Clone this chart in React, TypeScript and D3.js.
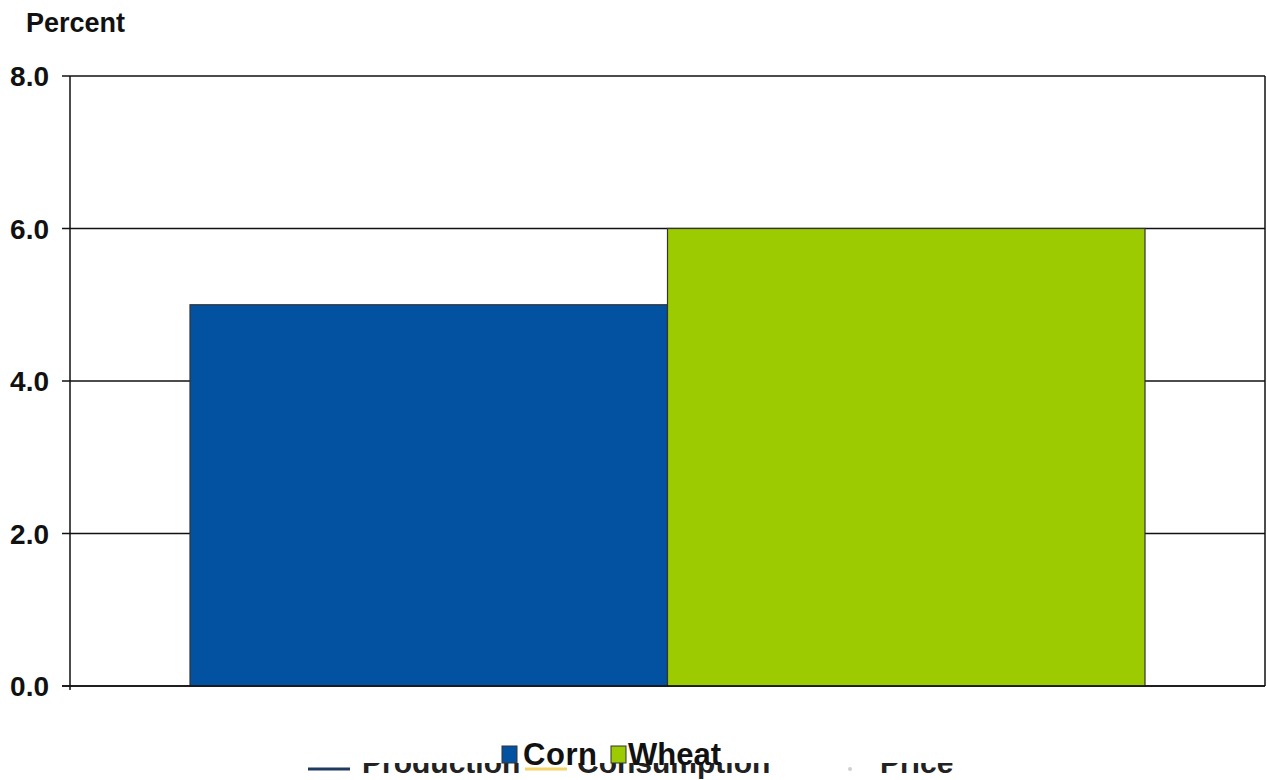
import React from "react";
import * as d3 from "d3";

const series = ["Corn", "Wheat"];
const values = [5.0, 6.0];
const colors = ["#0352A2", "#9BCB00"];
const yTicks = [0, 2, 4, 6, 8];
const hiddenLegend = ["Production", "Consumption", "Price"];
const hiddenLegendColors = ["#1F3A5F", "#F2D46A", "#D0D0D0"];

const W = 1267;
const H = 780;
const plot = { left: 70, right: 1265, top: 76, bottom: 686 };
const FONT = "'Liberation Sans', Arial, sans-serif";

export default function App() {
  const y = d3.scaleLinear().domain([0, 8]).range([plot.bottom, plot.top]);
  const x = d3
    .scaleBand<string>()
    .domain(series)
    .range([plot.left, plot.right])
    .paddingInner(0)
    .paddingOuter(0.2513);

  const hiddenPos = [
    { lx: 308, tx: 362 },
    { lx: 525, tx: 577 },
    { lx: 838, tx: 880 },
  ];

  return (
    <svg
      width={W}
      height={H}
      style={{ position: "absolute", left: 0, top: 0, background: "#fff" }}
      fontFamily={FONT}
    >
      <rect x={0} y={0} width={W} height={H} fill="#fff" />
      <text x={26} y={32} fontSize={27} fontWeight="bold" fill="#111">
        Percent
      </text>
      {/* gridlines */}
      {yTicks.map((t) => (
        <g key={t}>
          <line
            x1={plot.left - 8}
            x2={plot.right}
            y1={y(t)}
            y2={y(t)}
            stroke="#111"
            strokeWidth={1.3}
          />
          <text
            x={49}
            y={y(t)}
            dy="0.36em"
            textAnchor="end"
            fontSize={28}
            fontWeight="bold"
            fill="#111"
          >
            {t.toFixed(1)}
          </text>
        </g>
      ))}
      {/* bars */}
      {series.map((s, i) => (
        <rect
          key={s}
          x={x(s)!}
          y={y(values[i])}
          width={x.bandwidth()}
          height={y(0) - y(values[i])}
          fill={colors[i]}
          stroke="#333"
          strokeWidth={1.2}
        />
      ))}
      {/* axes / border */}
      <line x1={plot.left} x2={plot.left} y1={plot.top} y2={plot.bottom + 4} stroke="#111" strokeWidth={1.5} />
      <line x1={plot.right} x2={plot.right} y1={plot.top} y2={plot.bottom} stroke="#111" strokeWidth={1.5} />
      <line x1={plot.left - 8} x2={plot.right} y1={plot.bottom} y2={plot.bottom} stroke="#111" strokeWidth={1.5} />

      {/* partially hidden legend behind */}
      {hiddenLegend.map((name, i) => (
        <g key={name}>
          {i < 2 ? (
            <line
              x1={hiddenPos[i].lx}
              x2={hiddenPos[i].lx + 42}
              y1={769}
              y2={769}
              stroke={hiddenLegendColors[i]}
              strokeWidth={3}
            />
          ) : (
            <circle cx={hiddenPos[i].lx + 12} cy={769} r={2} fill={hiddenLegendColors[i]} />
          )}
          <text x={hiddenPos[i].tx} y={773} fontSize={30} fontWeight="bold" fill="#222">
            {name}
          </text>
        </g>
      ))}
      <rect x={280} y={735} width={700} height={28} fill="#fff" />

      {/* front legend */}
      {series.map((s, i) => {
        const sx = i === 0 ? 502 : 611;
        const tx = i === 0 ? 523 : 628;
        return (
          <g key={s}>
            <rect x={sx} y={746} width={15} height={17} fill={colors[i]} stroke="#333" strokeWidth={1} />
            <text x={tx} y={765} fontSize={31} fontWeight="bold" fill="#111" textLength={i === 0 ? 74 : 93}>
              {s}
            </text>
          </g>
        );
      })}
    </svg>
  );
}
